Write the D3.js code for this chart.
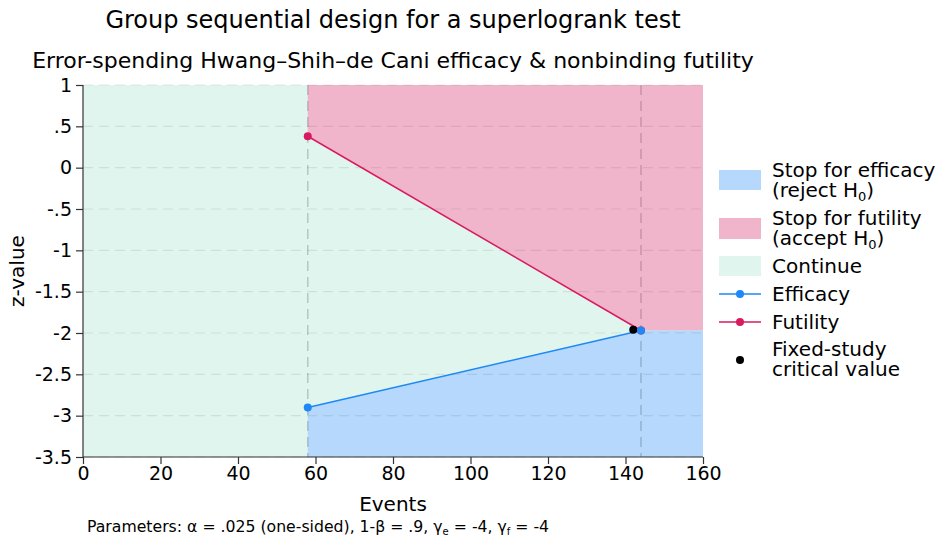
<!DOCTYPE html>
<html lang="en">
<head>
<meta charset="utf-8">
<title>Group sequential design</title>
<script src="https://d3js.org/d3.v7.min.js"></script>
<style>
  body { margin: 0; background: #fff; }
  text { font-family: "DejaVu Sans", sans-serif; fill: #000; }
</style>
</head>
<body>
<script>
// data
const looks = [58, 144];            // events at each analysis
const efficacy = [-2.9, -1.97];     // efficacy boundary (z)
const futility = [0.38, -1.97];     // futility boundary (z)
const fixedStudy = {events: 142, z: -1.96};
const yTicks = [1, 0.5, 0, -0.5, -1, -1.5, -2, -2.5, -3, -3.5];
const xTicks = [0, 20, 40, 60, 80, 100, 120, 140, 160];

const width = 937, height = 538;
const plotL = 83, plotR = 703, plotT = 85, plotB = 457;

const colEff = "#1e88f5", colFut = "#d81b60";
const fillEff = "#b5d8fc", fillFut = "#f0b5cb", fillCont = "#dff5ee";

const x = d3.scaleLinear().domain([0, 160]).range([plotL, plotR]);
const y = d3.scaleLinear().domain([-3.5, 1]).range([plotB, plotT]);

const svg = d3.select("body").append("svg")
  .attr("width", width).attr("height", height);

// regions
svg.append("rect")
  .attr("x", x(0)).attr("y", y(1))
  .attr("width", x(160) - x(0)).attr("height", y(-3.5) - y(1))
  .attr("fill", fillCont);

const futPoly = [[looks[0], 1], [looks[0], futility[0]], [looks[1], futility[1]], [160, futility[1]], [160, 1]];
const effPoly = [[looks[0], -3.5], [looks[0], efficacy[0]], [looks[1], efficacy[1]], [160, efficacy[1]], [160, -3.5]];
const line = d3.line().x(d => x(d[0])).y(d => y(d[1]));

svg.append("path").attr("d", line(futPoly) + "Z").attr("fill", fillFut);
svg.append("path").attr("d", line(effPoly) + "Z").attr("fill", fillEff);

// grid
svg.append("g").selectAll("line").data(yTicks).enter().append("line")
  .attr("x1", x(0)).attr("x2", x(160))
  .attr("y1", d => y(d)).attr("y2", d => y(d))
  .attr("stroke", "#000").attr("stroke-opacity", 0.08)
  .attr("stroke-width", 1.2).attr("stroke-dasharray", "10,6");

svg.append("g").selectAll("line").data(looks).enter().append("line")
  .attr("x1", d => x(d)).attr("x2", d => x(d))
  .attr("y1", y(1)).attr("y2", y(-3.5))
  .attr("stroke", "#000").attr("stroke-opacity", 0.18)
  .attr("stroke-width", 1.5).attr("stroke-dasharray", "10,6");

// boundaries
const pts = (vals) => looks.map((e, i) => [e, vals[i]]);
[[efficacy, colEff], [futility, colFut]].forEach(([vals, c]) => {
  svg.append("path").attr("d", line(pts(vals)))
    .attr("fill", "none").attr("stroke", c).attr("stroke-width", 1.5);
});
svg.append("circle").attr("cx", x(fixedStudy.events)).attr("cy", y(fixedStudy.z))
  .attr("r", 4).attr("fill", "#000");
[[futility, colFut], [efficacy, colEff]].forEach(([vals, c]) => {
  svg.append("g").selectAll("circle").data(pts(vals)).enter().append("circle")
    .attr("cx", d => x(d[0])).attr("cy", d => y(d[1]))
    .attr("r", 4).attr("fill", c);
});

// axes
const fmt = d => d === 0 ? "0" : String(d).replace(/^(-?)0\./, "$1.");
const yAxis = svg.append("g").attr("transform", `translate(${plotL},0)`)
  .call(d3.axisLeft(y).tickValues(yTicks).tickFormat(fmt).tickSize(7).tickPadding(4));
const xAxis = svg.append("g").attr("transform", `translate(0,${plotB})`)
  .call(d3.axisBottom(x).tickValues(xTicks).tickSize(7).tickPadding(3));
[yAxis, xAxis].forEach(a => {
  a.select(".domain").attr("stroke", "#333").attr("stroke-width", 1.2);
  a.selectAll(".tick line").attr("stroke", "#333").attr("stroke-width", 1.2);
  a.selectAll("text").style("font-size", "19px").attr("fill", "#000");
});
xAxis.select(".domain").attr("d", `M${x(0)},0H${x(160)}`);
yAxis.select(".domain").attr("d", `M0,${y(1)}V${y(-3.5)}`);

// titles
svg.append("text").attr("x", 393).attr("y", 28).attr("text-anchor", "middle")
  .style("font-size", "24px").text("Group sequential design for a superlogrank test");
svg.append("text").attr("x", 393).attr("y", 68).attr("text-anchor", "middle")
  .style("font-size", "22px").text("Error-spending Hwang–Shih–de Cani efficacy & nonbinding futility");
svg.append("text").attr("x", x(80)).attr("y", 511).attr("text-anchor", "middle")
  .style("font-size", "20px").text("Events");
svg.append("text").attr("transform", "translate(24,271) rotate(-90)").attr("text-anchor", "middle")
  .style("font-size", "20px").text("z-value");

const note = svg.append("text").attr("x", 87).attr("y", 532).style("font-size", "15.7px");
note.append("tspan").text("Parameters: α = .025 (one-sided), 1-β = .9, γ");
note.append("tspan").attr("dy", 3).style("font-size", "10px").text("e");
note.append("tspan").attr("dy", -3).text(" = -4, γ");
note.append("tspan").attr("dy", 3).style("font-size", "10px").text("f");
note.append("tspan").attr("dy", -3).text(" = -4");

// legend
const lg = svg.append("g").attr("transform", "translate(719,0)");
const lx = 53;
function label(yy, lines) {
  const t = lg.append("text").attr("x", lx).attr("y", yy).style("font-size", "20px");
  lines.forEach((l, i) => {
    const row = t.append("tspan").attr("x", lx).attr("dy", i ? 20 : 0);
    if (Array.isArray(l)) {
      row.text(l[0]);
      t.append("tspan").attr("dy", 4).style("font-size", "13px").text(l[1]);
      t.append("tspan").attr("dy", -4).text(l[2]);
    } else row.text(l);
  });
}
lg.append("rect").attr("x", 0).attr("y", 170).attr("width", 42).attr("height", 20).attr("fill", fillEff);
label(177, ["Stop for efficacy", ["(reject H", "0", ")"]]);
lg.append("rect").attr("x", 0).attr("y", 218).attr("width", 42).attr("height", 21).attr("fill", fillFut);
label(225, ["Stop for futility", ["(accept H", "0", ")"]]);
lg.append("rect").attr("x", 0).attr("y", 256).attr("width", 42).attr("height", 20).attr("fill", fillCont);
label(273, ["Continue"]);
[[294, colEff, "Efficacy"], [322, colFut, "Futility"]].forEach(([yy, c, name]) => {
  lg.append("line").attr("x1", 0).attr("x2", 42).attr("y1", yy).attr("y2", yy)
    .attr("stroke", c).attr("stroke-width", 1.5);
  lg.append("circle").attr("cx", 21).attr("cy", yy).attr("r", 4).attr("fill", c);
  label(yy + 7, [name]);
});
lg.append("circle").attr("cx", 21).attr("cy", 360).attr("r", 4).attr("fill", "#000");
label(356, ["Fixed-study", "critical value"]);
</script>
</body>
</html>
